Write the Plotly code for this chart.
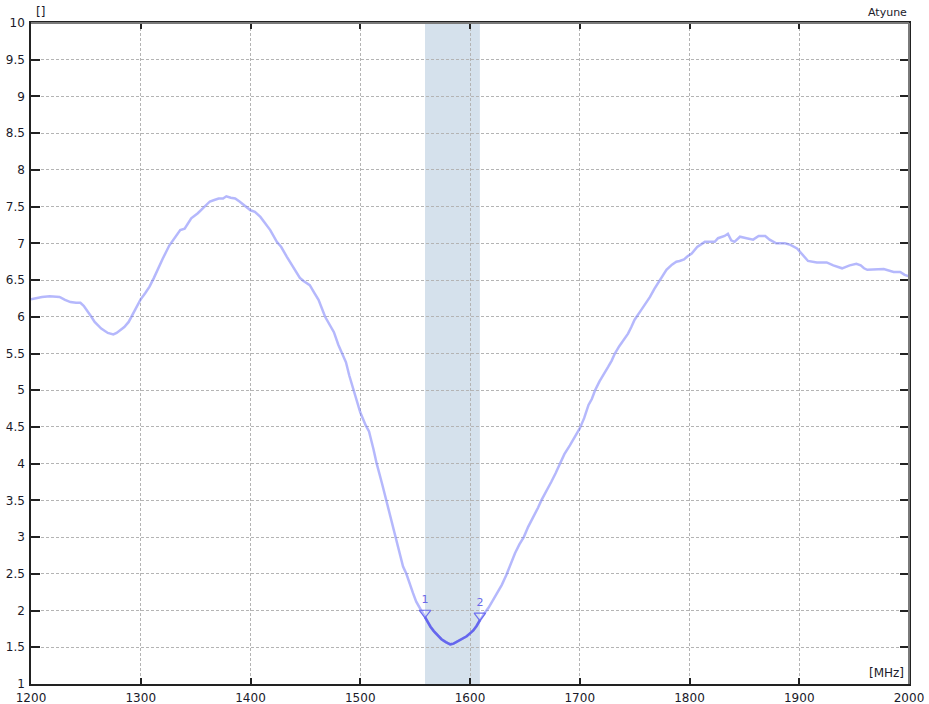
import numpy as np
import plotly.graph_objects as go

freq = [1200, 1205, 1210, 1217, 1222, 1226, 1231, 1236, 1241, 1245, 1248, 1251, 1255, 1258, 1264, 1270,
        1275, 1278, 1281, 1285, 1289, 1293, 1296, 1300, 1304, 1308, 1312, 1315, 1320, 1326, 1330, 1336,
        1340, 1346, 1352, 1357, 1363, 1367, 1371, 1375, 1378, 1382, 1386, 1390, 1396, 1400, 1404, 1409,
        1413, 1418, 1424, 1428, 1433, 1440, 1445, 1448, 1454, 1458, 1462, 1468, 1472, 1476, 1480, 1484,
        1487, 1490, 1494, 1500, 1505, 1508, 1512, 1515, 1520, 1524, 1528, 1532, 1536, 1539, 1542, 1545,
        1548, 1551, 1555, 1558, 1561, 1564, 1567, 1571, 1574, 1578, 1582, 1585, 1589, 1593, 1597, 1600,
        1603, 1606, 1609, 1613, 1617, 1621, 1625, 1629, 1633, 1637, 1641, 1645, 1649, 1653, 1658, 1662,
        1665, 1670, 1674, 1678, 1682, 1686, 1691, 1695, 1700, 1704, 1708, 1711, 1714, 1718, 1722, 1726,
        1729, 1732, 1736, 1740, 1744, 1747, 1750, 1755, 1759, 1764, 1768, 1772, 1776, 1779, 1784, 1788,
        1791, 1795, 1798, 1802, 1807, 1811, 1814, 1819, 1823, 1826, 1832, 1835, 1838, 1841, 1846, 1852,
        1858, 1863, 1869, 1873, 1879, 1887, 1892, 1898, 1902, 1908, 1916, 1925, 1931, 1939, 1946, 1952,
        1956, 1959, 1962, 1968, 1977, 1986, 1992, 1996, 2000]
vswr = [6.24, 6.26, 6.27, 6.28, 6.28, 6.27, 6.23, 6.20, 6.19, 6.19, 6.15, 6.09, 6.00, 5.93, 5.84, 5.78,
        5.76, 5.78, 5.81, 5.86, 5.93, 6.04, 6.14, 6.24, 6.32, 6.41, 6.53, 6.63, 6.79, 6.97, 7.06, 7.18,
        7.20, 7.34, 7.41, 7.48, 7.57, 7.59, 7.61, 7.61, 7.64, 7.62, 7.61, 7.57, 7.50, 7.45, 7.43, 7.36,
        7.28, 7.18, 7.02, 6.95, 6.82, 6.66, 6.53, 6.49, 6.43, 6.33, 6.23, 6.00, 5.90, 5.79, 5.62, 5.48,
        5.38, 5.20, 5.00, 4.70, 4.52, 4.44, 4.20, 4.00, 3.72, 3.48, 3.24, 3.00, 2.76, 2.60, 2.50, 2.36,
        2.24, 2.12, 2.02, 1.94, 1.85, 1.78, 1.72, 1.66, 1.61, 1.57, 1.54, 1.55, 1.58, 1.61, 1.65, 1.69,
        1.73, 1.79, 1.87, 1.96, 2.04, 2.14, 2.24, 2.35, 2.48, 2.63, 2.78, 2.90, 3.00, 3.14, 3.28, 3.40,
        3.50, 3.63, 3.75, 3.87, 4.00, 4.13, 4.25, 4.36, 4.48, 4.62, 4.80, 4.88, 5.00, 5.12, 5.23, 5.32,
        5.40, 5.50, 5.60, 5.68, 5.77, 5.86, 5.96, 6.07, 6.16, 6.27, 6.38, 6.47, 6.56, 6.64, 6.71, 6.75,
        6.76, 6.78, 6.82, 6.86, 6.95, 6.99, 7.02, 7.02, 7.02, 7.07, 7.10, 7.13, 7.04, 7.02, 7.09, 7.07,
        7.05, 7.10, 7.10, 7.05, 7.00, 7.00, 6.98, 6.93, 6.86, 6.76, 6.74, 6.74, 6.70, 6.66, 6.70, 6.72,
        6.70, 6.66, 6.64, 6.64, 6.65, 6.61, 6.61, 6.57, 6.55]

band = [1559, 1609]
marker_freq = [1559, 1609]
marker_labels = ["1", "2"]
x_ticks = [1200, 1300, 1400, 1500, 1600, 1700, 1800, 1900, 2000]
y_ticks = [1, 1.5, 2, 2.5, 3, 3.5, 4, 4.5, 5, 5.5, 6, 6.5, 7, 7.5, 8, 8.5, 9, 9.5, 10]

fa = np.array(freq, dtype=float)
va = np.array(vswr, dtype=float)
mk_y = np.interp(marker_freq, fa, va)
sel = (fa >= band[0]) & (fa <= band[1])
seg_x = np.concatenate([[band[0]], fa[sel], [band[1]]])
seg_y = np.interp(seg_x, fa, va)

FONT = "DejaVu Sans"
fig = go.Figure()
fig.add_trace(go.Scatter(x=freq, y=vswr, mode="lines",
                         line=dict(color="rgba(120,125,250,0.55)", width=2.5),
                         hoverinfo="skip", showlegend=False))
fig.add_trace(go.Scatter(x=seg_x, y=seg_y, mode="lines",
                         line=dict(color="rgba(90,90,235,0.85)", width=2.5),
                         hoverinfo="skip", showlegend=False))
fig.add_trace(go.Scatter(x=marker_freq, y=mk_y + 0.06, mode="markers+text",
                         marker=dict(symbol="triangle-down-open", size=10,
                                     color="rgba(100,100,240,0.9)", line=dict(width=1.2)),
                         text=marker_labels, textposition="top center",
                         textfont=dict(family=FONT, size=11, color="#6a6ae8"),
                         hoverinfo="skip", showlegend=False))

fig.add_shape(type="rect", xref="x", yref="paper", x0=band[0], x1=band[1], y0=0, y1=1,
              fillcolor="#d5e1ec", line=dict(width=0), layer="below")
# gray top and right borders
fig.add_shape(type="line", xref="paper", yref="paper", x0=0, x1=1, y0=1, y1=1,
              line=dict(color="#7a7a7a", width=2), layer="above")
fig.add_shape(type="line", xref="paper", yref="paper", x0=1, x1=1, y0=0, y1=1,
              line=dict(color="#7a7a7a", width=2), layer="above")

axis_common = dict(showgrid=True, gridcolor="#b4b4b4", gridwidth=1, griddash="3px,2px",
                   showline=True, linecolor="#222222", linewidth=1.5, mirror="ticks",
                   ticks="inside", tickcolor="#222222", tickwidth=2, zeroline=False,
                   automargin=False,
                   tickfont=dict(family=FONT, size=12, color="#1a1a2a"))
fig.update_xaxes(range=[1200, 2000], tickvals=x_ticks, ticktext=[str(v) for v in x_ticks],
                 ticklen=6, ticklabelstandoff=2, **axis_common)
fig.update_yaxes(range=[1, 10], tickvals=y_ticks, ticktext=[f"{v:g}" for v in y_ticks],
                 ticklen=9, ticklabelstandoff=2, **axis_common)

fig.add_annotation(text="[]", xref="paper", yref="paper", x=0, y=1, xanchor="left", yanchor="bottom",
                   yshift=2, xshift=3, showarrow=False, font=dict(family=FONT, size=12, color="#1a1a2a"))
fig.add_annotation(text="Atyune", xref="paper", yref="paper", x=1, y=1, xanchor="right", yanchor="bottom",
                   yshift=2, showarrow=False, font=dict(family=FONT, size=11, color="#1a1a2a"))
fig.add_annotation(text="[MHz]", xref="paper", yref="paper", x=1, y=0, xanchor="right", yanchor="bottom",
                   xshift=-3, yshift=2, showarrow=False, bgcolor="white",
                   font=dict(family=FONT, size=12, color="#1a1a2a"))

fig.update_layout(width=929, height=704, margin=dict(l=31, r=20, t=23, b=20),
                  paper_bgcolor="white", plot_bgcolor="white", showlegend=False)
fig.write_html("out.html", config={"displayModeBar": False},
               post_script="document.body.style.margin='0px';document.body.style.overflow='hidden';")
